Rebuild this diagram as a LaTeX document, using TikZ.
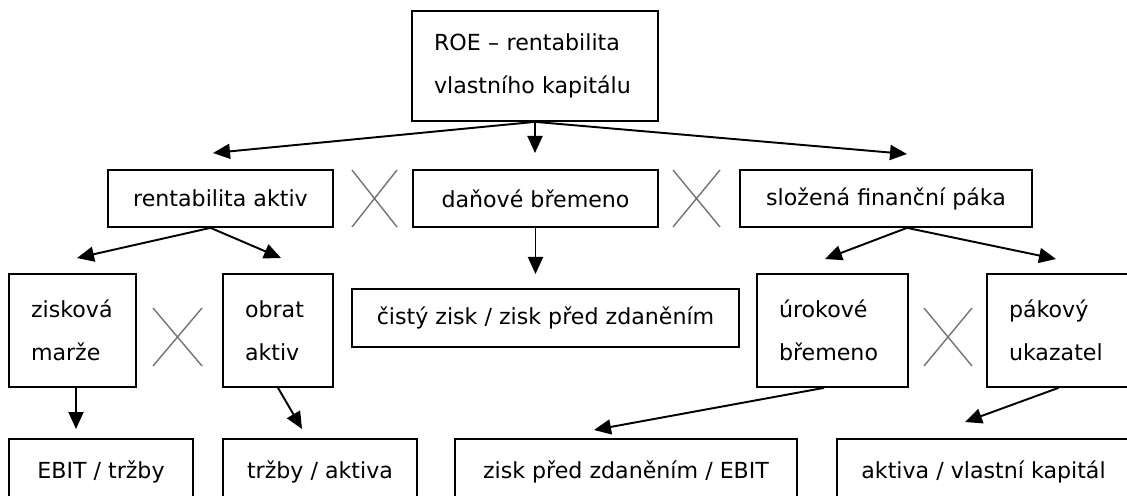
\documentclass[tikz,border=0pt]{standalone}
\usepackage{fontspec}
\setmainfont{DejaVu Sans}
\usetikzlibrary{arrows.meta,shapes.misc}
\tikzset{
	pole/.style={draw, line width=1pt, inner sep=0pt, font=\fontsize{12.6}{24.5}\selectfont},
	pole2/.style={pole, align=left, inner xsep=0.44cm, text width=#1, minimum height=2.26cm},
	krat/.style={draw=black!55, line width=0.8pt, cross out, inner sep=0pt, outer sep=0pt, minimum height=#1},
	sipka/.style={line width=1.1pt, -{Triangle[length=0.34cm,width=0.3cm]}}
}

\begin{document}
\begin{tikzpicture}[x=0.02cm, y=-0.02cm]
		\useasboundingbox (0,0) rectangle (1127,496);
		\clip (0,0) rectangle (1127,496);

		\node[pole2=4.04cm, minimum height=2.2cm] (roe) at (535,66) {ROE – rentabilita\\vlastního kapitálu};

		\node[pole, minimum width=4.5cm, minimum height=1.14cm] (ra) at (220.5,198.5) {rentabilita aktiv};
		\node[pole, minimum width=4.9cm, minimum height=1.14cm] (db) at (535.5,198.5) {daňové břemeno};
		\node[pole, minimum width=5.84cm, minimum height=1.14cm] (sfp) at (886,198.5) {složená finanční páka};

		\node[pole2=1.66cm] (zm) at (72.5,330.5) {zisková\\marže};
		\node[pole2=1.32cm] (oa) at (278,330.5) {obrat\\aktiv};
		\node[pole, minimum width=7.74cm, minimum height=1.16cm] (cz) at (545.5,318) {čistý zisk / zisk před zdaněním};
		\node[pole2=2.14cm] (ub) at (832.5,330.5) {úrokové\\břemeno};
		\node[pole2=1.98cm] (pu) at (1058.5,330.5) {pákový\\ukazatel};

		\node[pole, minimum width=3.68cm, minimum height=1.32cm] (ebit) at (101,472) {EBIT / tržby};
		\node[pole, minimum width=3.88cm, minimum height=1.32cm] (ta) at (320,472) {tržby / aktiva};
		\node[pole, minimum width=6.84cm, minimum height=1.32cm] (zpe) at (626,472) {zisk před zdaněním / EBIT};
		\node[pole, minimum width=5.86cm, minimum height=1.32cm] (avk) at (983.5,472) {aktiva / vlastní kapitál};

		\node[krat=1.14cm, minimum width=0.9cm] (x1) at (374.5,198.5) {};
		\node[krat=1.14cm, minimum width=0.94cm] (x2) at (696.5,198.5) {};
		\node[krat=1.16cm, minimum width=0.98cm] (x3) at (177.5,337) {};
		\node[krat=1.16cm, minimum width=0.96cm] (x4) at (948,337) {};

		\coordinate (h-ra) at (213,153);
		\coordinate (h-db) at (535,153);
		\coordinate (h-sfp) at (907,154);
		\coordinate (h-zm) at (77,258);
		\coordinate (h-oa) at (281,258);
		\coordinate (h-cz) at (535.5,274);
		\coordinate (h-ub) at (825,259);
		\coordinate (h-pu) at (1056,259);
		\coordinate (h-ebit) at (76,429);
		\coordinate (h-ta) at (302,429);
		\coordinate (h-zpe) at (594,430);
		\coordinate (h-avk) at (965,422);

		\draw[sipka] (roe.south) to (h-ra);
		\draw[sipka] (roe.south) to (h-db);
		\draw[sipka] (roe.south) to (h-sfp);
		\draw[sipka] ([xshift=-0.2cm]ra.south) to (h-zm);
		\draw[sipka] ([xshift=-0.2cm]ra.south) to (h-oa);
		\draw[sipka] (db.south) to (h-cz);
		\draw[sipka] ([xshift=0.42cm]sfp.south) to (h-ub);
		\draw[sipka] ([xshift=0.42cm]sfp.south) to (h-pu);
		\draw[sipka] ([xshift=0.07cm]zm.south) to (h-ebit);
		\draw[sipka] (oa.south) to (h-ta);
		\draw[sipka] ([xshift=-0.17cm]ub.south) to (h-zpe);
		\draw[sipka] (pu.south) to (h-avk);
\end{tikzpicture}
\end{document}
